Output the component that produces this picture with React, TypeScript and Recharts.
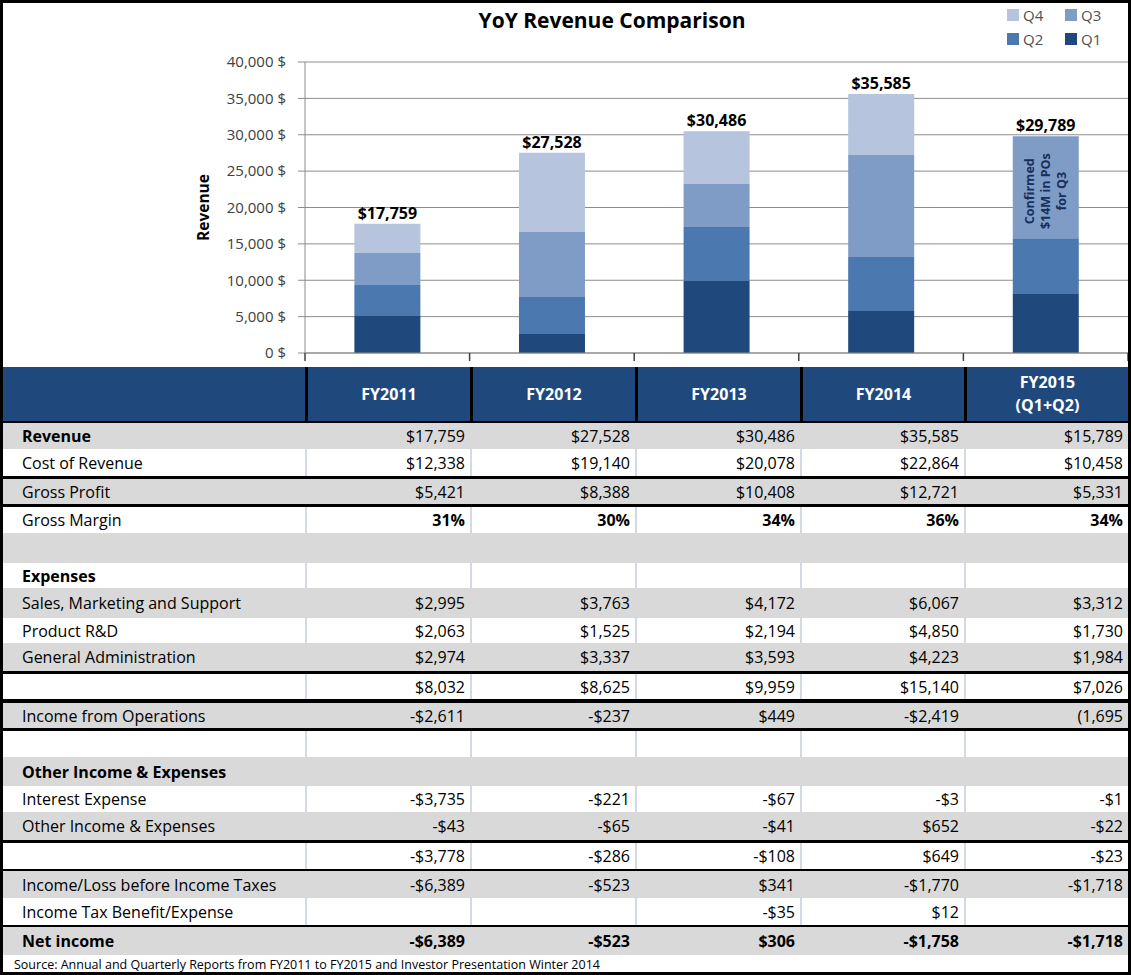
import React from 'react';
import { BarChart, Bar, XAxis, YAxis, CartesianGrid, LabelList } from 'recharts';

const years = ['FY2011', 'FY2012', 'FY2013', 'FY2014', 'FY2015'];
const q1 = [5100, 2600, 9900, 5770, 8100];
const q2 = [4250, 5100, 7420, 7430, 7689];
const q3 = [4400, 8930, 5910, 14000, 14000];
const q4 = [4009, 10898, 7256, 8385, 0];
const totals = [17759, 27528, 30486, 35585, 29789];
const yTicks = [0, 5000, 10000, 15000, 20000, 25000, 30000, 35000, 40000];

const seriesKeys = ['q1', 'q2', 'q3', 'q4'];
const seriesNames = ['Q1', 'Q2', 'Q3', 'Q4'];
const seriesColors = ['#1F497D', '#4A78AF', '#7F9CC7', '#B7C4DE'];
const noteLines = ['Confirmed', '$14M in POs', 'for Q3'];

const headerLabels = ['FY2011', 'FY2012', 'FY2013', 'FY2014', 'FY2015'];
const revenue = ['$17,759', '$27,528', '$30,486', '$35,585', '$15,789'];
const costOfRevenue = ['$12,338', '$19,140', '$20,078', '$22,864', '$10,458'];
const grossProfit = ['$5,421', '$8,388', '$10,408', '$12,721', '$5,331'];
const grossMargin = ['31%', '30%', '34%', '36%', '34%'];
const salesMarketing = ['$2,995', '$3,763', '$4,172', '$6,067', '$3,312'];
const productRD = ['$2,063', '$1,525', '$2,194', '$4,850', '$1,730'];
const generalAdmin = ['$2,974', '$3,337', '$3,593', '$4,223', '$1,984'];
const totalExpenses = ['$8,032', '$8,625', '$9,959', '$15,140', '$7,026'];
const incomeOps = ['-$2,611', '-$237', '$449', '-$2,419', '(1,695'];
const interestExpense = ['-$3,735', '-$221', '-$67', '-$3', '-$1'];
const otherIncome = ['-$43', '-$65', '-$41', '$652', '-$22'];
const totalOther = ['-$3,778', '-$286', '-$108', '$649', '-$23'];
const incomeBeforeTax = ['-$6,389', '-$523', '$341', '-$1,770', '-$1,718'];
const incomeTax = ['', '', '-$35', '$12', ''];
const netIncome = ['-$6,389', '-$523', '$306', '-$1,758', '-$1,718'];
const empty = ['', '', '', '', ''];

const chartData = years.map((y, i) => ({
  year: y, q1: q1[i], q2: q2[i], q3: q3[i], q4: q4[i], total: totals[i],
}));

const FONT = '"Open Sans", Lato, sans-serif';
const GREY = '#D9D9D9';
const colW = [302, 165, 165, 165, 164, 164];

// rows: label, values, bg, height, top border, bold label, bold values
const rows = [
  { label: 'Revenue', vals: revenue, grey: true, h: 26, bt: 0, bl: true },
  { label: 'Cost of Revenue', vals: costOfRevenue, grey: false, h: 27, bt: 0 },
  { label: 'Gross Profit', vals: grossProfit, grey: true, h: 25, bt: 3 },
  { label: 'Gross Margin', vals: grossMargin, grey: false, h: 26, bt: 3, bv: true },
  { label: '', vals: empty, grey: true, h: 30, bt: 0 },
  { label: 'Expenses', vals: empty, grey: false, h: 25, bt: 0, bl: true },
  { label: 'Sales, Marketing and Support', vals: salesMarketing, grey: true, h: 30, bt: 0 },
  { label: 'Product R&D', vals: productRD, grey: false, h: 25, bt: 0 },
  { label: 'General Administration', vals: generalAdmin, grey: true, h: 28, bt: 0 },
  { label: '', vals: totalExpenses, grey: false, h: 25, bt: 3 },
  { label: 'Income from Operations', vals: incomeOps, grey: true, h: 25, bt: 4 },
  { label: '', vals: empty, grey: false, h: 26, bt: 3 },
  { label: 'Other Income & Expenses', vals: empty, grey: true, h: 29, bt: 0, bl: true },
  { label: 'Interest Expense', vals: interestExpense, grey: false, h: 26, bt: 0 },
  { label: 'Other Income & Expenses', vals: otherIncome, grey: true, h: 28, bt: 0 },
  { label: '', vals: totalOther, grey: false, h: 26, bt: 3 },
  { label: 'Income/Loss before Income Taxes', vals: incomeBeforeTax, grey: true, h: 27, bt: 2 },
  { label: 'Income Tax Benefit/Expense', vals: incomeTax, grey: false, h: 27, bt: 0 },
  { label: 'Net income', vals: netIncome, grey: true, h: 28, bt: 2, bl: true, bv: true },
];

const fmtY = (v: number) => `${v.toLocaleString('en-US')} $`;
const fmtTotal = (v: any) => `$${Number(v).toLocaleString('en-US')}`;
const totalStyle = { fontFamily: FONT, fontWeight: 700, fontSize: 16, fill: '#000' };

const renderRevenueLabel = (props: any) => {
  const vb = props.viewBox || { x: 0, y: 62, height: 291 };
  const cx = vb.x + 203;
  const cy = vb.y + vb.height / 2;
  return (
    <text x={cx} y={cy} textAnchor="middle" dominantBaseline="central"
      transform={`rotate(-90 ${cx} ${cy})`}
      style={{ fontFamily: FONT, fontWeight: 700, fontSize: 15.5, fill: '#000' }}>
      Revenue
    </text>
  );
};

const BAND = (1128 - 305) / 5;

const renderCatTick = (props: any) => {
  const { x, y, index } = props;
  return (
    <g>
      <line x1={x - BAND / 2} x2={x - BAND / 2} y1={y} y2={y + 8} stroke="#404040" strokeWidth={1.5} />
      {index === years.length - 1 && (
        <line x1={x + BAND / 2} x2={x + BAND / 2} y1={y} y2={y + 8} stroke="#404040" strokeWidth={1.5} />
      )}
    </g>
  );
};

// note inside the FY2015 Q3 segment, plus the total when there is no Q4 segment on top
const renderQ3Label = (props: any) => {
  const { x, y, width, height, index } = props;
  const d = chartData[index];
  if (!d || d.q4 !== 0) return null;
  const cx = x + width / 2;
  const cy = y + height / 2 + 4;
  return (
    <g>
      <text x={cx} y={y - 5} textAnchor="middle" style={totalStyle}>{fmtTotal(d.total)}</text>
      <text transform={`rotate(-90 ${cx} ${cy})`} textAnchor="middle"
        style={{ fontFamily: FONT, fontWeight: 700, fontSize: 12.5, fill: '#17305A' }}>
        {noteLines.map((l, i) => (
          <tspan key={l} x={cx} y={cy + (i - 1) * 16 + 4}>{l}</tspan>
        ))}
      </text>
    </g>
  );
};

const RevenueChart = () => (
  <BarChart width={1131} height={367} data={chartData}
    margin={{ top: 62, right: 3, bottom: 4, left: 0 }} barCategoryGap="30%">
    <CartesianGrid vertical={false} stroke="#8C8C8C" />
    <XAxis dataKey="year" interval={0} height={10} tickSize={0} tickMargin={0}
      tickLine={false} axisLine={{ stroke: '#8C8C8C' }} tick={renderCatTick} />
    <YAxis width={305} domain={[0, 40000]} ticks={yTicks} tickFormatter={fmtY}
      tick={{ fontSize: 15, fill: '#404040', fontFamily: FONT }}
      tickSize={7} tickMargin={12}
      axisLine={{ stroke: '#8C8C8C' }} tickLine={{ stroke: '#8C8C8C' }}
      label={{ content: renderRevenueLabel }} />
    {seriesKeys.map((k, i) => (
      <Bar key={k} dataKey={k} name={seriesNames[i]} stackId="rev"
        fill={seriesColors[i]} isAnimationActive={false}>
        {k === 'q3' && <LabelList dataKey="q3" content={renderQ3Label} />}
        {k === 'q4' && (
          <LabelList dataKey="total" position="top" offset={5}
            formatter={fmtTotal} style={totalStyle} />
        )}
      </Bar>
    ))}
  </BarChart>
);

const legendOrder = [3, 2, 1, 0];

const Legend = () => (
  <div style={{ position: 'absolute', left: 1007, top: 5, display: 'grid',
    gridTemplateColumns: '58px 50px', rowGap: 4, fontFamily: FONT, fontSize: 15, color: '#505050' }}>
    {legendOrder.map(i => (
      <div key={i} style={{ display: 'flex', alignItems: 'center', height: 20 }}>
        <span style={{ width: 12, height: 12, background: seriesColors[i], marginRight: 4 }} />
        {seriesNames[i]}
      </div>
    ))}
  </div>
);

const Table = () => (
  <div style={{ position: 'absolute', left: 3, top: 367, width: 1125, fontFamily: FONT, fontSize: 16, color: '#000' }}>
    <div style={{ display: 'flex', height: 54, background: '#1F497D', borderBottom: '2px solid #000' }}>
      {colW.map((w, c) => (
        <div key={c} style={{ width: w, boxSizing: 'border-box', borderLeft: c > 0 ? '3px solid #000' : 'none',
          display: 'flex', alignItems: 'center', justifyContent: 'center', flexDirection: 'column',
          color: '#fff', fontWeight: 700, fontSize: 16, lineHeight: '23px' }}>
          {c > 0 && <span>{headerLabels[c - 1]}</span>}
          {c === 5 && <span>(Q1+Q2)</span>}
        </div>
      ))}
    </div>
    {rows.map((r, ri) => (
      <div key={ri} style={{ display: 'flex', height: r.h, background: r.grey ? GREY : '#fff',
        borderTop: r.bt ? `${r.bt}px solid #000` : 'none' }}>
        {colW.map((w, c) => (
          <div key={c} style={{ width: w, boxSizing: 'border-box',
            borderLeft: c > 0 ? `2px solid ${r.grey ? GREY : '#D3DAE6'}` : 'none',
            display: 'flex', alignItems: 'center',
            justifyContent: c === 0 ? 'flex-start' : 'flex-end',
            paddingLeft: c === 0 ? 19 : 0, paddingRight: c === 0 ? 0 : 5,
            fontWeight: (c === 0 ? r.bl : r.bv) ? 700 : 400, whiteSpace: 'nowrap' }}>
            {c === 0 ? r.label : r.vals[c - 1]}
          </div>
        ))}
      </div>
    ))}
    <div style={{ height: 18, display: 'flex', alignItems: 'center', paddingLeft: 11, fontSize: 12.5, background: '#fff' }}>
      Source: Annual and Quarterly Reports from FY2011 to FY2015 and Investor Presentation Winter 2014
    </div>
  </div>
);

export default function App() {
  return (
    <div style={{ position: 'relative', width: 1131, height: 975, background: '#fff', overflow: 'hidden' }}>
      <style>{'body{margin:0}'}</style>
      <div style={{ position: 'absolute', left: 0, top: 0 }}>
        <RevenueChart />
      </div>
      <div style={{ position: 'absolute', left: 0, width: 1224, top: 6, textAlign: 'center',
        fontFamily: FONT, fontWeight: 700, fontSize: 21, color: '#000' }}>
        YoY Revenue Comparison
      </div>
      <Legend />
      <Table />
      <div style={{ position: 'absolute', inset: 0, border: '3px solid #000', pointerEvents: 'none' }} />
    </div>
  );
}
